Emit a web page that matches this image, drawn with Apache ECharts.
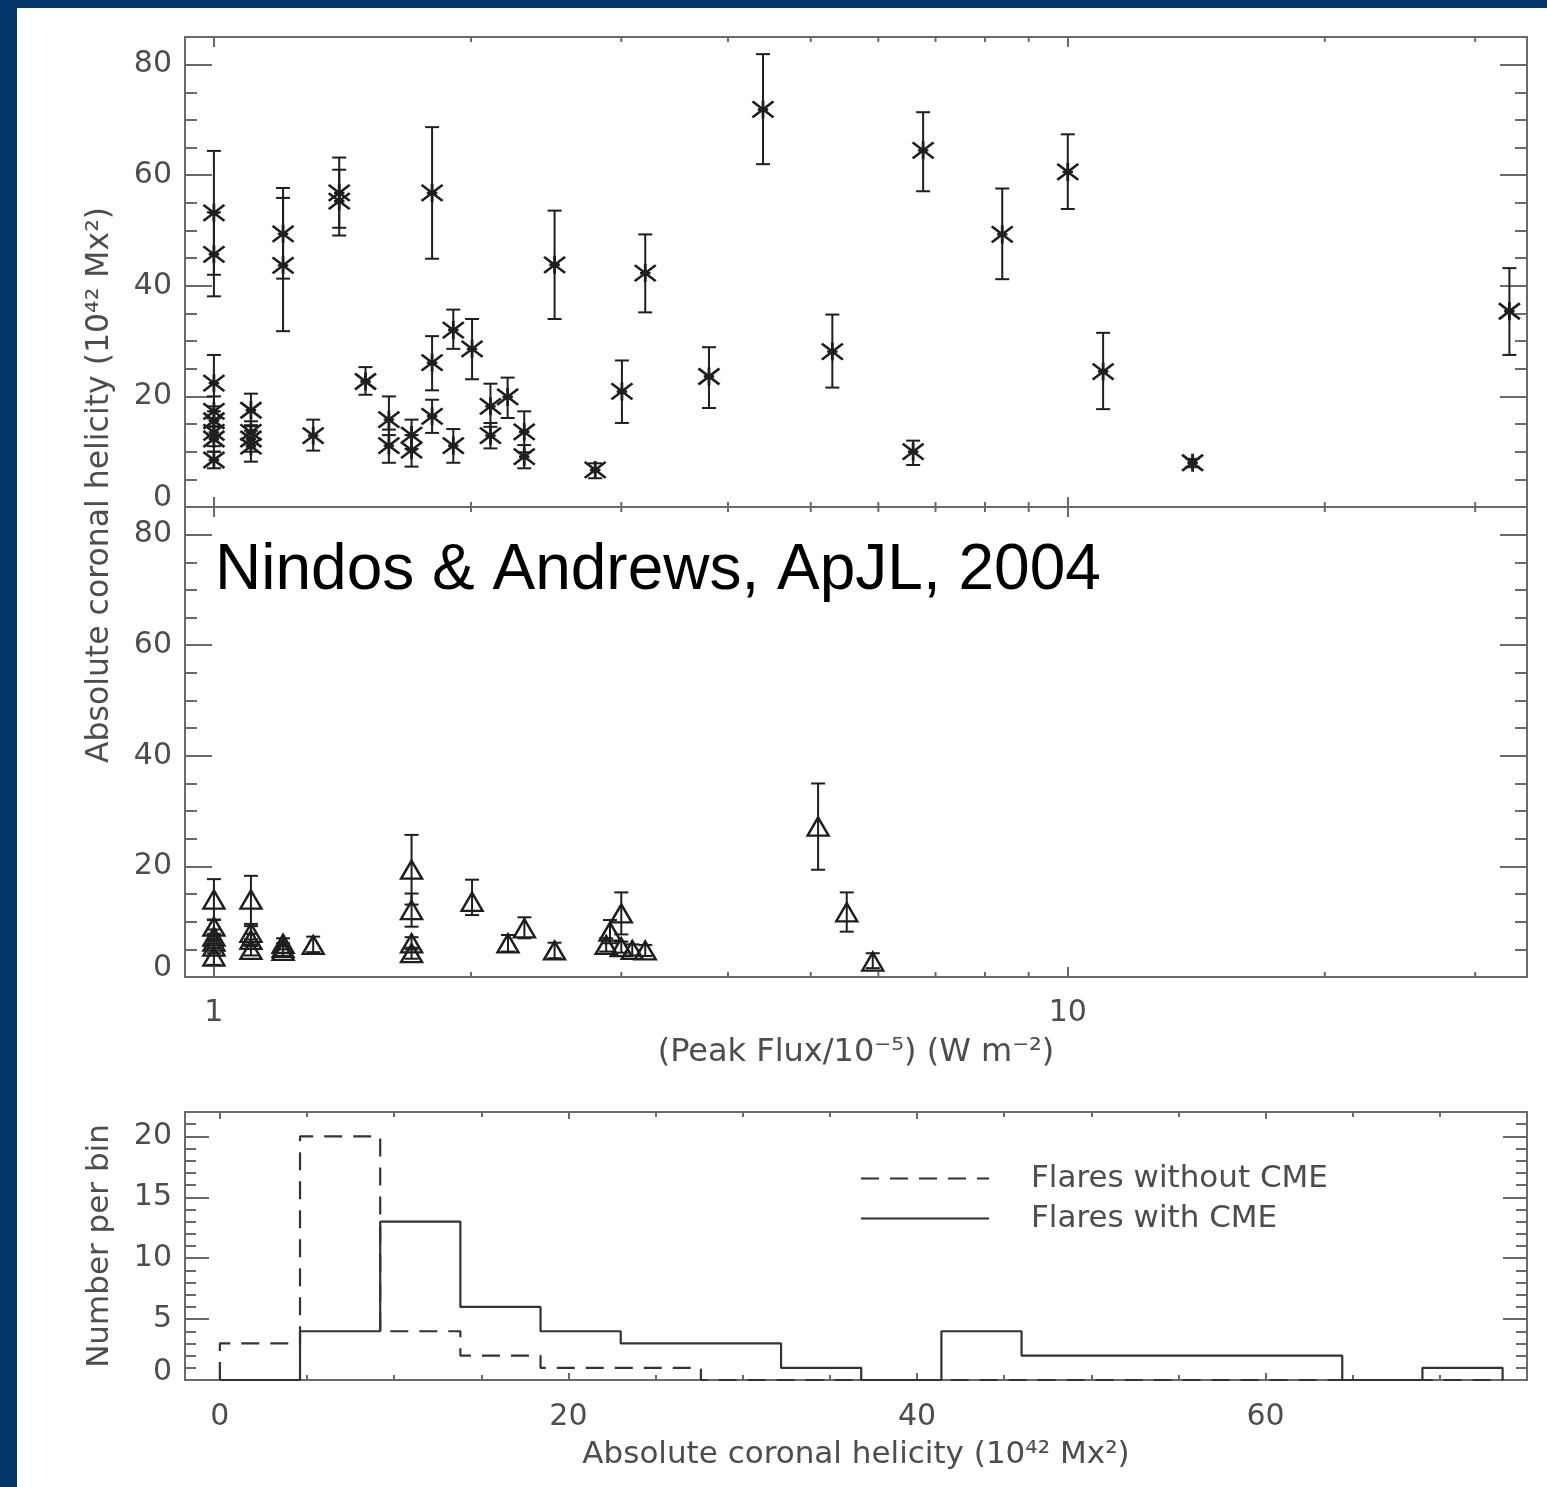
<!DOCTYPE html>
<html>
<head>
<meta charset="utf-8">
<script src="https://cdn.jsdelivr.net/npm/echarts@6/dist/echarts.min.js"></script>
<style>
html,body{margin:0;padding:0;background:#ffffff;}
#c{width:1547px;height:1487px;}
</style>
</head>
<body>
<div id="c"></div>
<script>
// ---------------- DATA ----------------
// Top panel: flares with CME (peak flux /1e-5 W m^-2, helicity 1e42 Mx^2, error bar low/high)
const cmeFlux     = [1.00, 1.00, 1.00, 1.00, 1.00, 1.00, 1.00, 1.00, 1.105, 1.105, 1.105, 1.105, 1.205, 1.205, 1.307, 1.402, 1.402, 1.505, 1.603, 1.603, 1.704, 1.704, 1.801, 1.801, 1.801, 1.907, 1.907, 2.006, 2.108, 2.108, 2.208, 2.309, 2.309, 2.506, 2.796, 3.005, 3.20, 3.80, 4.396, 5.30, 6.59, 6.77, 8.38, 10.0, 11.0, 14.0, 32.9];
const cmeHelicity = [53.2, 45.7, 22.4, 17.3, 15.6, 13.5, 12.3, 8.5, 17.5, 13.5, 12.3, 11.0, 49.4, 43.7, 12.9, 56.8, 55.3, 22.7, 15.8, 11.1, 13.0, 10.3, 56.8, 26.1, 16.4, 32.0, 11.1, 28.6, 18.2, 12.9, 19.9, 13.6, 9.1, 43.8, 6.7, 20.9, 42.3, 23.6, 71.9, 28.1, 10.0, 64.5, 49.3, 60.6, 24.5, 8.0, 35.4];
const cmeLow      = [42.0, 38.1, 17.3, 14.5, 13.0, 11.0, 10.0, 7.0, 14.8, 11.5, 10.0, 8.2, 41.3, 31.8, 10.2, 50.5, 49.1, 20.3, 13.0, 8.0, 10.5, 7.3, 44.9, 21.1, 13.4, 28.6, 8.0, 23.1, 14.5, 10.6, 16.1, 9.9, 7.0, 34.0, 5.2, 15.2, 35.2, 17.9, 62.0, 21.6, 7.6, 57.1, 41.2, 53.9, 17.7, 7.2, 27.5];
const cmeHigh     = [64.4, 53.3, 27.5, 20.0, 18.2, 16.0, 14.6, 10.0, 20.5, 15.5, 14.6, 13.8, 57.7, 55.9, 15.8, 63.2, 61.0, 25.3, 20.0, 14.0, 15.8, 13.0, 68.7, 30.9, 19.4, 35.7, 14.1, 34.0, 22.3, 15.2, 23.4, 17.3, 11.2, 53.6, 7.9, 26.5, 49.3, 28.9, 81.9, 34.8, 12.0, 71.4, 57.6, 67.4, 31.5, 8.7, 43.2];

// Middle panel: flares without CME
const noCmeFlux     = [1.00, 1.00, 1.00, 1.00, 1.00, 1.00, 1.105, 1.105, 1.105, 1.105, 1.205, 1.205, 1.205, 1.307, 1.704, 1.704, 1.704, 1.704, 2.006, 2.21, 2.31, 2.506, 2.91, 3.00, 2.88, 3.00, 3.09, 3.20, 5.10, 5.51, 5.91];
const noCmeHelicity = [14.0, 9.1, 7.3, 6.4, 5.5, 3.7, 14.0, 8.0, 6.7, 4.9, 6.0, 5.2, 4.7, 5.8, 19.4, 12.1, 6.1, 4.3, 13.6, 6.1, 8.8, 4.8, 8.2, 11.5, 5.8, 5.4, 4.9, 4.8, 27.2, 11.7, 2.8];
const noCmeLow      = [10.3, 7.8, 6.0, 5.2, 4.3, 2.2, 9.6, 6.8, 5.6, 3.9, 5.0, 4.3, 3.8, 4.5, 13.1, 9.1, 5.0, 3.3, 11.2, 4.6, 7.0, 3.4, 6.1, 7.7, 4.6, 4.4, 3.9, 3.8, 19.4, 8.2, 1.6];
const noCmeHigh     = [17.7, 10.4, 8.6, 7.6, 6.7, 5.2, 18.3, 9.2, 7.8, 5.9, 7.0, 6.1, 5.6, 7.3, 25.7, 15.1, 7.2, 5.3, 17.6, 7.6, 10.8, 6.2, 10.3, 15.3, 7.0, 6.4, 5.9, 5.8, 35.0, 15.3, 4.3];

// Histogram (bin edges in 1e42 Mx^2, counts per bin)
const binEdges     = [0, 4.6, 9.2, 13.8, 18.4, 23.0, 27.6, 32.2, 36.8, 41.4, 46.0, 50.6, 55.2, 59.8, 64.4, 69.0, 73.6];
const countsNoCme  = [3, 20, 4, 2, 1, 1, 0, 0, 0, 0, 0, 0, 0, 0, 0, 0];
const countsCme    = [0, 4, 13, 6, 4, 3, 3, 1, 0, 4, 2, 2, 2, 2, 0, 1];

// Tick labels / positions
const fluxLabelValues = [1, 10];
const fluxMinorTicks  = [2, 3, 4, 5, 6, 7, 8, 9, 20, 30];

// ---------------- HELPERS ----------------
const FONT = 'DejaVu Sans';
const TXT = '#4d4d4d';
const AX = '#6a6a6a';
const INK = '#1e1e1e';

function stepData(edges, counts) {
  const out = [[edges[0], 0]];
  for (let i = 0; i < counts.length; i++) {
    out.push([edges[i], counts[i]]);
    out.push([edges[i + 1], counts[i]]);
  }
  out.push([edges[edges.length - 1], 0]);
  return out;
}

function errRender(params, api) {
  const x = api.value(0), lo = api.value(2), hi = api.value(3);
  const a = api.coord([x, lo]), b = api.coord([x, hi]);
  const w = 7;
  const style = { stroke: INK, lineWidth: 2 };
  return {
    type: 'group',
    children: [
      { type: 'line', shape: { x1: a[0], y1: a[1], x2: b[0], y2: b[1] }, style: style },
      { type: 'line', shape: { x1: a[0] - w, y1: a[1], x2: a[0] + w, y2: a[1] }, style: style },
      { type: 'line', shape: { x1: b[0] - w, y1: b[1], x2: b[0] + w, y2: b[1] }, style: style }
    ]
  };
}

function minorTickRender(params, api) {
  const v = api.value(0);
  const b = api.coord([v, 0]);
  const t = api.coord([v, 85]);
  const style = { stroke: AX, lineWidth: 2 };
  return {
    type: 'group',
    children: [
      { type: 'line', shape: { x1: b[0], y1: b[1], x2: b[0], y2: b[1] - 5 }, style: style },
      { type: 'line', shape: { x1: t[0], y1: t[1], x2: t[0], y2: t[1] + 5 }, style: style }
    ]
  };
}

const labelStyle = { fontSize: 30, fontFamily: FONT, color: TXT };
const nameStyle = { fontSize: 31, fontFamily: FONT, color: TXT };

function logX(gridIndex, position, showLabel, name) {
  return {
    type: 'log', logBase: 10, gridIndex: gridIndex, position: position,
    min: 0.925, max: 34.5,
    axisLine: { show: false, onZero: false }, splitLine: { show: false },
    axisTick: { show: true, inside: true, length: 10, lineStyle: { color: AX, width: 2 } },
    axisLabel: Object.assign({
      show: showLabel, margin: 21,
      formatter: function (v) { return fluxLabelValues.some(function (f) { return Math.abs(f - v) < 1e-6; }) ? String(Math.round(v)) : ''; }
    }, labelStyle),
    name: name || '', nameLocation: 'middle', nameGap: 60,
    nameTextStyle: { fontSize: 32, fontFamily: FONT, color: TXT }
  };
}

function helY(gridIndex, position, showLabel) {
  return {
    type: 'value', gridIndex: gridIndex, position: position,
    min: 0, max: 85, interval: 20,
    axisLine: { show: false, onZero: false }, splitLine: { show: false },
    axisTick: { show: true, inside: true, length: 27, lineStyle: { color: AX, width: 2 } },
    minorTick: { show: true, splitNumber: 4, length: 12, lineStyle: { color: AX, width: 2 } },
    axisLabel: Object.assign({
      show: showLabel, margin: 13,
      formatter: function (v) { if (v === 0) return '{z|0}'; return (v % 20 === 0) ? String(v) : ''; },
      rich: { z: { fontSize: 30, fontFamily: FONT, color: TXT, padding: [0, 0, 18, 0] } }
    }, labelStyle)
  };
}

const chart = echarts.init(document.getElementById('c'), null, { renderer: 'canvas' });

const option = {
  animation: false,
  backgroundColor: '#ffffff',
  textStyle: { fontFamily: FONT },
  grid: [
    { left: 185, width: 1342, top: 37, height: 470, show: true, borderColor: AX, borderWidth: 2, backgroundColor: 'transparent', containLabel: false, outerBoundsMode: 'none' },
    { left: 185, width: 1342, top: 507, height: 470, show: true, borderColor: AX, borderWidth: 2, backgroundColor: 'transparent', containLabel: false, outerBoundsMode: 'none' },
    { left: 185, width: 1342, top: 1112, height: 268, show: true, borderColor: AX, borderWidth: 2, backgroundColor: 'transparent', containLabel: false, outerBoundsMode: 'none' }
  ],
  xAxis: [
    logX(0, 'bottom', false),
    logX(0, 'top', false),
    logX(1, 'bottom', true, '(Peak Flux/10\u207B\u2075) (W m\u207B\u00B2)'),
    logX(1, 'top', false),
    {
      type: 'value', gridIndex: 2, position: 'bottom', min: -2, max: 75, splitNumber: 4,
      axisLine: { show: false, onZero: false }, splitLine: { show: false },
      axisTick: { show: true, inside: true, length: 7, lineStyle: { color: AX, width: 2 } },
      minorTick: { show: true, splitNumber: 4, length: 5, lineStyle: { color: AX, width: 2 } },
      axisLabel: Object.assign({ margin: 22, formatter: function (v) { return (v % 20 === 0) ? String(v) : ''; } }, labelStyle),
      name: 'Absolute coronal helicity (10\u2074\u00B2 Mx\u00B2)', nameLocation: 'middle', nameGap: 59,
      nameTextStyle: nameStyle
    },
    {
      type: 'value', gridIndex: 2, position: 'top', min: -2, max: 75, splitNumber: 4,
      axisLine: { show: false, onZero: false }, splitLine: { show: false },
      axisTick: { show: true, inside: true, length: 7, lineStyle: { color: AX, width: 2 } },
      minorTick: { show: true, splitNumber: 4, length: 5, lineStyle: { color: AX, width: 2 } },
      axisLabel: { show: false }
    }
  ],
  yAxis: [
    helY(0, 'left', true),
    helY(0, 'right', false),
    helY(1, 'left', true),
    helY(1, 'right', false),
    {
      type: 'value', gridIndex: 2, position: 'left', min: 0, max: 22, interval: 5,
      axisLine: { show: false, onZero: false }, splitLine: { show: false },
      axisTick: { show: true, inside: true, length: 24, lineStyle: { color: AX, width: 2 } },
      minorTick: { show: true, splitNumber: 5, length: 11, lineStyle: { color: AX, width: 2 } },
      axisLabel: Object.assign({
        margin: 13,
        formatter: function (v) { if (v === 0) return '{z|0}'; return (v % 5 === 0) ? String(v) : ''; },
        rich: { z: { fontSize: 30, fontFamily: FONT, color: TXT, padding: [0, 0, 16, 0] } }
      }, labelStyle),
      name: 'Number per bin', nameLocation: 'middle', nameRotate: 90, nameGap: 70,
      nameTextStyle: nameStyle
    },
    {
      type: 'value', gridIndex: 2, position: 'right', min: 0, max: 22, interval: 5,
      axisLine: { show: false, onZero: false }, splitLine: { show: false },
      axisTick: { show: true, inside: true, length: 24, lineStyle: { color: AX, width: 2 } },
      minorTick: { show: true, splitNumber: 5, length: 11, lineStyle: { color: AX, width: 2 } },
      axisLabel: { show: false }
    }
  ],
  legend: {
    data: ['Flares without CME', 'Flares with CME'],
    orient: 'vertical', left: 855, top: 1158,
    itemWidth: 128, itemHeight: 14, itemGap: 9,
    selectedMode: false,
    itemStyle: { opacity: 0 },
    textStyle: { fontSize: 31, fontFamily: FONT, color: TXT, padding: [0, 0, 0, 37] }
  },
  series: [
    // minor log ticks
    { type: 'custom', xAxisIndex: 0, yAxisIndex: 0, data: fluxMinorTicks.map(function (v) { return [v, 0]; }), renderItem: minorTickRender, silent: true, clip: false, encode: { x: 0, y: 1 } },
    { type: 'custom', xAxisIndex: 2, yAxisIndex: 2, data: fluxMinorTicks.map(function (v) { return [v, 0]; }), renderItem: minorTickRender, silent: true, clip: false, encode: { x: 0, y: 1 } },
    // error bars
    { type: 'custom', xAxisIndex: 0, yAxisIndex: 0, silent: true, clip: false,
      data: cmeFlux.map(function (x, i) { return [x, cmeHelicity[i], cmeLow[i], cmeHigh[i]]; }),
      encode: { x: 0, y: [2, 3] }, renderItem: errRender },
    { type: 'custom', xAxisIndex: 2, yAxisIndex: 2, silent: true, clip: false,
      data: noCmeFlux.map(function (x, i) { return [x, noCmeHelicity[i], noCmeLow[i], noCmeHigh[i]]; }),
      encode: { x: 0, y: [2, 3] }, renderItem: errRender },
    // markers
    { type: 'scatter', name: 'with CME points', xAxisIndex: 0, yAxisIndex: 0, silent: true,
      data: cmeFlux.map(function (x, i) { return [x, cmeHelicity[i]]; }),
      symbol: 'path://M10,0L10,18M0,1L20,17M0,17L20,1M5,9L15,9', symbolSize: [21, 18],
      itemStyle: { color: 'none', borderColor: INK, borderWidth: 2.6, opacity: 1 } },
    { type: 'scatter', name: 'without CME points', xAxisIndex: 2, yAxisIndex: 2, silent: true,
      data: noCmeFlux.map(function (x, i) { return [x, noCmeHelicity[i]]; }),
      symbol: 'triangle', symbolSize: [21, 18],
      itemStyle: { color: 'none', borderColor: INK, borderWidth: 2.4, opacity: 1 } },
    // histograms
    { type: 'line', name: 'Flares without CME', xAxisIndex: 4, yAxisIndex: 4, symbol: 'none', showSymbol: false, silent: true,
      data: stepData(binEdges, countsNoCme),
      lineStyle: { color: '#333333', width: 2.2, type: [18, 11] }, itemStyle: { color: '#333333' } },
    { type: 'line', name: 'Flares with CME', xAxisIndex: 4, yAxisIndex: 4, symbol: 'none', showSymbol: false, silent: true,
      data: stepData(binEdges, countsCme),
      lineStyle: { color: '#333333', width: 2.2, type: 'solid' }, itemStyle: { color: '#333333' } }
  ],
  graphic: [
    { type: 'rect', left: 0, top: 0, shape: { width: 17, height: 1487 }, style: { fill: '#03366a' }, silent: true },
    { type: 'rect', left: 0, top: 0, shape: { width: 1547, height: 8 }, style: { fill: '#03366a' }, silent: true },
    { type: 'text', x: 100, y: 485, rotation: Math.PI / 2, silent: true,
      style: { text: 'Absolute coronal helicity (10\u2074\u00B2 Mx\u00B2)', font: '31.5px "DejaVu Sans"', fill: TXT,
               align: 'center', verticalAlign: 'middle', textAlign: 'center', textVerticalAlign: 'middle' } },
    { type: 'text', x: 215, y: 571, silent: true,
      style: { text: 'Nindos & Andrews, ApJL, 2004', font: '64px "Liberation Sans", Helvetica, Arial, sans-serif', fill: '#000000',
               align: 'left', verticalAlign: 'middle', textAlign: 'left', textVerticalAlign: 'middle' } }
  ]
};

chart.setOption(option);
</script>
</body>
</html>
